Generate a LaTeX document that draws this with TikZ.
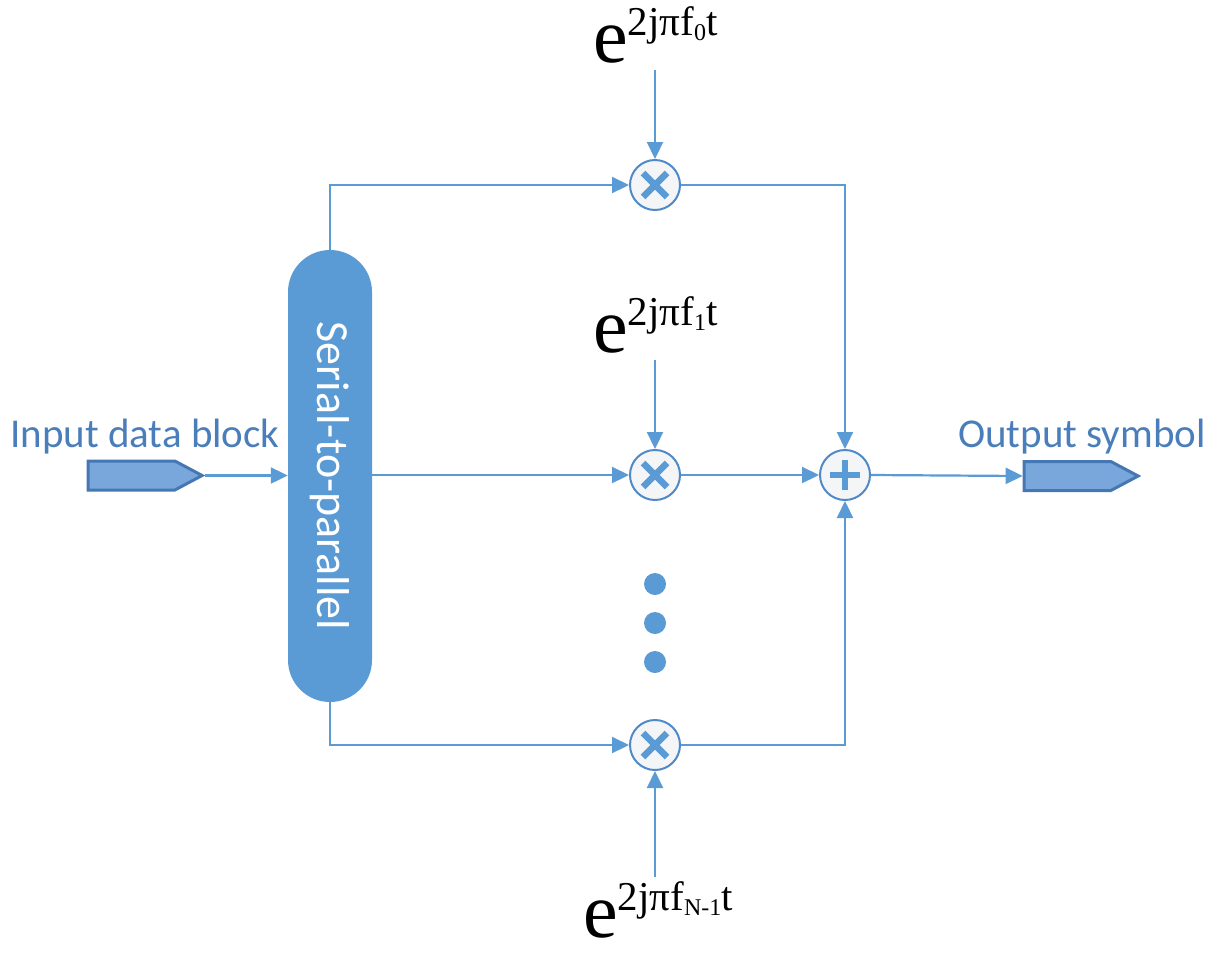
\documentclass[tikz,border=0pt]{standalone}
\usepackage{fontspec}
\setmainfont{Carlito}
\newfontfamily\expfont{Liberation Serif}
\usetikzlibrary{arrows.meta,shapes.symbols}
\definecolor{lineblue}{HTML}{5B9BD5}
\definecolor{blockblue}{HTML}{5B9BD5}
\definecolor{textblue}{HTML}{4A7EBB}
\definecolor{tagfill}{HTML}{79A7DB}
\definecolor{tagedge}{HTML}{4577B3}
\definecolor{ringedge}{HTML}{5089C8}
\definecolor{ringfill}{HTML}{F4F5F7}
% carrier term e^{2 j pi f_k t}
\newcommand\carrier[1]{{\expfont\fontsize{78}{78}\selectfont e\raisebox{27pt}{\fontsize{41}{41}\selectfont 2jπf\raisebox{-5pt}{\fontsize{24}{24}\selectfont #1}t}}}
\begin{document}
\begin{tikzpicture}[x=1pt,y=-1pt,
  conn/.style={draw=lineblue,line width=2.2pt},
  arr/.style={conn,-{Triangle[length=17pt,width=16pt]}},
  ring/.style={circle,draw=ringedge,fill=ringfill,line width=2pt,minimum size=50pt,inner sep=0pt},
  mult/.style={ring,path picture={
    \draw[lineblue,line width=6.5pt]
      ([shift={(-12,-12)}]path picture bounding box.center) -- ([shift={(12,12)}]path picture bounding box.center)
      ([shift={(-12,12)}]path picture bounding box.center) -- ([shift={(12,-12)}]path picture bounding box.center);}},
  adder/.style={ring,path picture={
    \draw[lineblue,line width=6pt]
      ([shift={(-15,0)}]path picture bounding box.center) -- ([shift={(15,0)}]path picture bounding box.center)
      ([shift={(0,-15)}]path picture bounding box.center) -- ([shift={(0,15)}]path picture bounding box.center);}},
  tag/.style={signal,signal to=east,signal pointer angle=56,draw=tagedge,fill=tagfill,
    line width=3pt,minimum width=114pt,minimum height=29pt,inner sep=0pt},
  lbl/.style={text=textblue,font=\fontsize{41}{41}\selectfont,inner sep=0pt},
  expo/.style={inner sep=0pt,text=black},
  dot/.style={circle,fill=lineblue,minimum size=22pt,inner sep=0pt}
]
\useasboundingbox (0,0) rectangle (1215,956);

% serial-to-parallel converter
\node[fill=blockblue,rounded corners=42pt,minimum width=84pt,minimum height=452pt,inner sep=0pt] (s2p) at (330,476) {};
\node[rotate=-90,text=white,font=\fontsize{46}{46}\selectfont] at (s2p.center) {Serial-to-parallel};

% input and output tags
\node[tag] (in) at (131.5,475.5) {};
\node[tag] (out) at (1067.5,476) {};
\node[lbl,anchor=base west] (inlbl) at (10,447) {Input data block};
\node[lbl,anchor=base west] (outlbl) at (958,447) {Output symbol};

% multipliers and summer
\node[mult] (m0) at (655,185) {};
\node[mult] (m1) at (655,475) {};
\node[mult] (m2) at (655,745) {};
\node[adder] (sum) at (845,475) {};

% ellipsis between branches
\node[dot] (d1) at (655,584) {};
\node[dot] (d2) at (655,623) {};
\node[dot] (d3) at (655,662) {};

% carrier labels
\node[expo,anchor=base west] (e0) at (593,62) {\carrier{0}};
\node[expo,anchor=base west] (e1) at (593,352) {\carrier{1}};
\node[expo,anchor=base west] (e2) at (583,937) {\carrier{N-1}};
\coordinate (t0) at (655,70);
\coordinate (t1) at (655,360);
\coordinate (t2) at (655,877);

% signal paths
\draw[arr] (in.east) -- (s2p.west |- in.east);
\draw[arr] (s2p.north) |- (m0.west);
\draw[arr] (s2p.east |- m1.west) -- (m1.west);
\draw[arr] (s2p.south) |- (m2.west);
\draw[arr] (t0) -- (m0.north);
\draw[arr] (t1) -- (m1.north);
\draw[arr] (t2) -- (m2.south);
\draw[arr] (m0.east) -| (sum.north);
\draw[arr] (m1.east) -- (sum.west);
\draw[arr] (m2.east) -| (sum.south);
\draw[arr] (sum.east) -- (out.west);
\end{tikzpicture}
\end{document}
